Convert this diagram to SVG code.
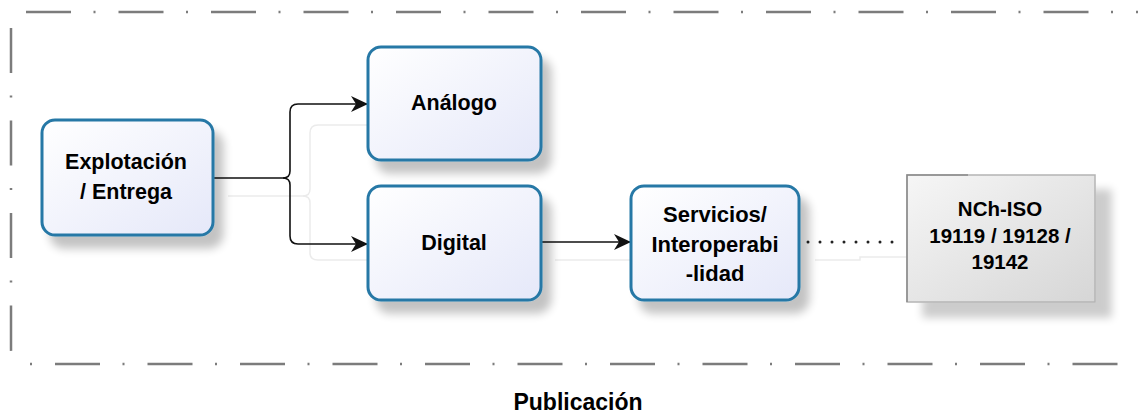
<svg xmlns="http://www.w3.org/2000/svg" width="1138" height="414" viewBox="0 0 1138 414">
<defs>
<style>
.lbl{font-family:"Liberation Sans",Arial,sans-serif;font-weight:bold;font-size:21.5px;fill:#000;text-anchor:middle}
.box{fill:url(#gBlue);stroke:#2778a6;stroke-width:3}
.frame{fill:none;stroke:#7c7c7c;stroke-width:2.5}
.conn{fill:none;stroke:#111;stroke-width:1.6}
.ghost{fill:none;stroke:#ebebeb;stroke-width:1.5}
</style>
<linearGradient id="gBlue" x1="0" y1="0" x2="1" y2="1">
<stop offset="0" stop-color="#ffffff"/>
<stop offset="1" stop-color="#e5e8f9"/>
</linearGradient>
<linearGradient id="gGray" x1="0" y1="0" x2="1" y2="1">
<stop offset="0" stop-color="#f6f6f6"/>
<stop offset="1" stop-color="#d6d6d6"/>
</linearGradient>
<filter id="sh" x="-20%" y="-20%" width="150%" height="160%">
<feGaussianBlur in="SourceAlpha" stdDeviation="5"/>
<feOffset dx="9" dy="12" result="b"/>
<feComponentTransfer><feFuncA type="linear" slope="0.24"/></feComponentTransfer>
<feMerge><feMergeNode/><feMergeNode in="SourceGraphic"/></feMerge>
</filter>
<filter id="sh2" x="-20%" y="-20%" width="150%" height="160%">
<feGaussianBlur in="SourceAlpha" stdDeviation="4"/>
<feOffset dx="16" dy="15" result="b"/>
<feComponentTransfer><feFuncA type="linear" slope="0.2"/></feComponentTransfer>
<feMerge><feMergeNode/><feMergeNode in="SourceGraphic"/></feMerge>
</filter>
<marker id="arr" markerUnits="userSpaceOnUse" markerWidth="20" markerHeight="18" refX="17" refY="8" orient="auto">
<path d="M0,0 L17,8 L0,16 L5,8 Z" fill="#111"/>
</marker>
</defs>

<g id="frame">
<path class="frame" d="M26,12 H1150" stroke-dasharray="45 22.5 2 23"/>
<path class="frame" d="M11,28 V348 Q11,356 13,358" stroke-dasharray="45 22.5 2 23"/>
<path class="frame" d="M30,364 H1150" stroke-dasharray="2 23 45 22.5"/>
</g>

<g id="connectors">
<path class="ghost" d="M228,196 H303 Q310,196 310,189 V133 Q310,125 318,125 H368"/>
<path class="ghost" d="M303,196 Q310,196 310,203 V253 Q310,260 318,260 H368"/>
<path class="ghost" d="M555,260 H631"/>
<path class="ghost" d="M815,260 H860 V257 H907"/>
<path class="conn" d="M213,178 H283 Q290,178 290,171 V112 Q290,104 298,104 H368" marker-end="url(#arr)"/>
<path class="conn" d="M283,178 Q290,178 290,185 V236 Q290,244 298,244 H368" marker-end="url(#arr)"/>
<path class="conn" d="M541,242 H631" marker-end="url(#arr)"/>
<path d="M808,242 H904" fill="none" stroke="#222" stroke-width="3" stroke-linecap="round" stroke-dasharray="0 12"/>
</g>

<g id="n-explotacion">
<rect class="box" x="42" y="120" width="171" height="115" rx="13" filter="url(#sh)"/>
<text class="lbl" x="126" y="169">Explotación</text>
<text class="lbl" x="126" y="199">/ Entrega</text>
</g>

<g id="n-analogo">
<rect class="box" x="368" y="47" width="173" height="113" rx="13" filter="url(#sh)"/>
<text class="lbl" x="454" y="110">Análogo</text>
</g>

<g id="n-digital">
<rect class="box" x="368" y="186" width="173" height="114" rx="13" filter="url(#sh)"/>
<text class="lbl" x="454" y="250">Digital</text>
</g>

<g id="n-servicios">
<rect class="box" x="631" y="186" width="168" height="114" rx="13" filter="url(#sh)"/>
<text class="lbl" x="715" y="222" style="font-size:22px">Servicios/</text>
<text class="lbl" x="715" y="252" style="font-size:22px">Interoperabi</text>
<text class="lbl" x="715" y="281" style="font-size:22px">-lidad</text>
</g>

<g id="n-nch">
<rect x="907" y="175" width="188" height="127" fill="url(#gGray)" stroke="#b4b4b4" stroke-width="1.5" filter="url(#sh2)"/>
<path d="M907,302 V175 H968" fill="none" stroke="#8a8a8a" stroke-width="1.5"/>
<text class="lbl" x="1000" y="216" style="font-size:20.5px">NCh-ISO</text>
<text class="lbl" x="1000" y="243" style="font-size:20.5px">19119 / 19128 /</text>
<text class="lbl" x="1000" y="269" style="font-size:20.5px">19142</text>
</g>

<g id="title">
<text class="lbl" x="578" y="410" style="font-size:23px">Publicación</text>
</g>
</svg>
